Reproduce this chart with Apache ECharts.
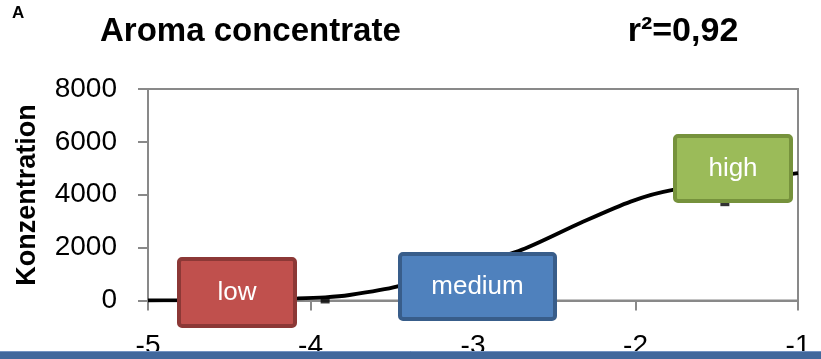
<!DOCTYPE html>
<html>
<head>
<meta charset="utf-8">
<script src="https://cdn.jsdelivr.net/npm/echarts@6/dist/echarts.min.js"></script>
<style>
  html, body { margin: 0; padding: 0; background: #ffffff; }
  #chart { width: 821px; height: 359px; }
</style>
</head>
<body>
<div id="chart"></div>
<script>
// Axis ranges and ticks
const xTicks = [-5, -4, -3, -2, -1];
const yTicks = [0, 2000, 4000, 6000, 8000];

// Fitted dose-response curve (log concentration vs. value)
const fitX = [-5, -4.82, -4.08, -3.91, -3.76, -3.47, -2.72, -2.34, -2.03, -1.77, -1];
const fitY = [0, 10, 83, 120, 208, 522, 1870, 2930, 3740, 4180, 4820];

// Measured points
const pointX = [-3.91, -1.45];
const pointY = [20, 3700];

// Region labels
const regionNames = ['low', 'medium', 'high'];

const FONT = '"Liberation Sans", Arial, sans-serif';
const AXIS_GREY = '#898989';

const chart = echarts.init(document.getElementById('chart'), null, { renderer: 'canvas' });

function pairs(xs, ys) { return xs.map((x, i) => [x, ys[i]]); }

// Annotation boxes: fill, border, outer pixel box
const boxes = [
  { name: regionNames[0], fill: '#c0504d', stroke: '#8c3836', x0: 177, y0: 257, x1: 297, y1: 328 },
  { name: regionNames[1], fill: '#4f81bd', stroke: '#385d8a', x0: 398, y0: 252, x1: 557, y1: 321 },
  { name: regionNames[2], fill: '#9bbb59', stroke: '#76923c', x0: 673, y0: 134, x1: 793, y1: 203 }
];

const graphics = [];
boxes.forEach(b => {
  graphics.push({
    type: 'rect', z: 100,
    shape: { x: b.x0 + 2, y: b.y0 + 2, width: b.x1 - b.x0 - 4, height: b.y1 - b.y0 - 4, r: 3 },
    style: { fill: b.fill, stroke: b.stroke, lineWidth: 4 }
  });
  graphics.push({
    type: 'text', z: 101,
    x: (b.x0 + b.x1) / 2, y: (b.y0 + b.y1) / 2,
    style: { text: b.name, fill: '#ffffff', font: '26px ' + FONT, align: 'center', verticalAlign: 'middle' }
  });
});

// Headline texts
graphics.push({
  type: 'text', x: 12, y: 13,
  style: { text: 'A', fill: '#000', font: 'bold 17px ' + FONT, align: 'left', verticalAlign: 'middle' }
});
graphics.push({
  type: 'text', x: 100, y: 32,
  style: { text: 'Aroma concentrate', fill: '#000', font: 'bold 33px ' + FONT, align: 'left', verticalAlign: 'middle' }
});
graphics.push({
  type: 'text', x: 683, y: 32,
  style: { text: 'r²=0,92', fill: '#000', font: 'bold 34px ' + FONT, align: 'center', verticalAlign: 'middle' }
});
// Y axis title
graphics.push({
  type: 'text', x: 28, y: 195, rotation: Math.PI / 2,
  style: { text: 'Konzentration', fill: '#000', font: 'bold 27px ' + FONT, align: 'center', verticalAlign: 'middle' }
});
// Band along the bottom edge
graphics.push({
  type: 'rect', z: 110,
  shape: { x: 0, y: 351, width: 821, height: 8 },
  style: { fill: '#41689c' }
});
graphics.push({
  type: 'line', z: 111,
  shape: { x1: 0, y1: 351.5, x2: 821, y2: 351.5 },
  style: { stroke: '#7393c2', lineWidth: 1 }
});

const option = {
  animation: false,
  backgroundColor: '#ffffff',
  grid: {
    left: 148, right: 23, top: 89, bottom: 58.5,
    outerBoundsMode: 'none',
    show: true, borderColor: AXIS_GREY, borderWidth: 2, backgroundColor: 'transparent'
  },
  xAxis: {
    type: 'value',
    min: xTicks[0], max: xTicks[xTicks.length - 1], interval: 1,
    axisLine: { show: true, onZero: false, lineStyle: { color: AXIS_GREY, width: 2 } },
    axisTick: { show: true, inside: false, length: 10, lineStyle: { color: AXIS_GREY, width: 2 } },
    splitLine: { show: false },
    axisLabel: { margin: 32, color: '#000', fontSize: 28, fontFamily: FONT, formatter: v => String(v) }
  },
  yAxis: {
    type: 'value',
    min: yTicks[0], max: yTicks[yTicks.length - 1], interval: 2000,
    axisLine: { show: true, lineStyle: { color: AXIS_GREY, width: 2 } },
    axisTick: { show: true, inside: false, length: 10, lineStyle: { color: AXIS_GREY, width: 2 } },
    splitLine: { show: false },
    axisLabel: { margin: 31, color: '#000', fontSize: 28, fontFamily: FONT, formatter: v => String(v) }
  },
  series: [
    {
      name: 'fit', type: 'line', z: 3,
      data: pairs(fitX, fitY),
      smooth: 0.25,
      showSymbol: false, symbol: 'none',
      lineStyle: { color: '#000', width: 3.8 },
      clip: true
    },
    {
      name: 'points', type: 'scatter', z: 4,
      data: pairs(pointX, pointY),
      symbol: 'rect', symbolSize: [9, 7],
      itemStyle: { color: '#000' }
    }
  ],
  graphic: graphics
};

chart.setOption(option);
</script>
</body>
</html>
